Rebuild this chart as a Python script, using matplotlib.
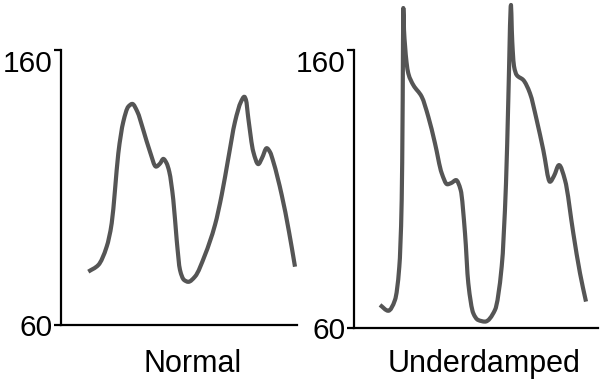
import matplotlib
matplotlib.use("Agg")
import matplotlib.pyplot as plt
from matplotlib.path import Path
from matplotlib.patches import PathPatch

plt.rcParams['font.family'] = ['Liberation Sans', 'DejaVu Sans']

# Normal waveform (time in arbitrary units, pressure in mmHg)
normal_t = [27.3, 37.3, 45.7, 50.7, 54.0, 57.3, 62.3, 67.3, 71.3, 76.3, 82.3, 89.0,
            95.0, 99.0, 102.3, 105.5, 108.3, 112.3, 115.7, 119.0, 123.0, 127.3, 134.0,
            144.0, 154.0, 160.7, 167.3, 174.0, 180.0, 183.3, 185.0, 187.3, 192.3, 197.3,
            201.0, 205.7, 209.0, 212.3, 220.7, 228.0, 234.0]
normal_p = [79.4, 81.8, 88.5, 97.0, 109.1, 122.4, 133.9, 139.4, 140.4, 137.6, 130.9, 123.0,
            117.6, 118.7, 120.4, 118.9, 115.7, 105.5, 90.9, 80.0, 76.4, 75.7, 77.6,
            85.5, 96.4, 107.3, 120.6, 133.9, 141.2, 143.0, 141.8, 135.2, 123.0, 118.5,
            120.7, 124.3, 122.9, 119.4, 107.3, 93.9, 81.2]

# Underdamped waveform
under_t = [26.0, 34.3, 41.0, 45.3, 47.7, 48.7, 49.3, 50.0, 51.0, 52.5, 54.3, 59.3,
           67.7, 74.3, 81.0, 87.7, 93.3, 97.5, 102.0, 106.7, 111.0, 114.3, 119.3, 124.0,
           131.0, 141.0, 147.7, 152.0, 154.3, 157.0, 157.8, 158.7, 160.0, 162.7, 169.3,
           176.0, 182.7, 189.3, 196.0, 200.0, 205.0, 211.0, 219.3, 226.0, 232.0]
under_p = [68.3, 66.2, 70.1, 82.0, 106.0, 142.0, 175.1, 167.2, 161.8, 155.7, 151.6, 147.4,
           143.2, 136.0, 126.4, 115.7, 111.7, 112.2, 113.2, 109.6, 94.1, 76.1, 65.3, 62.9,
           62.3, 66.5, 82.1, 112.0, 142.0, 176.2, 167.2, 160.0, 154.2, 151.0, 149.2,
           144.4, 134.8, 124.0, 112.6, 114.7, 118.6, 113.2, 94.1, 79.7, 69.5]

yticks = [60, 160]
ytick_labels = ['60', '160']
panel_titles = ['Normal', 'Underdamped']

W, H = 600, 379
fig = plt.figure(figsize=(W / 100, H / 100), dpi=100)

line_color = '#555555'


def smooth_path(xs, ys):
    """Cubic Bezier path passing through every data point (monotone Hermite tangents)."""
    n = len(xs)
    h = [xs[i + 1] - xs[i] for i in range(n - 1)]
    d = [(ys[i + 1] - ys[i]) / h[i] for i in range(n - 1)]
    m = [0.0] * n
    m[0], m[-1] = d[0], d[-1]
    for k in range(1, n - 1):
        if d[k - 1] * d[k] <= 0:
            m[k] = 0.0
        else:
            w1 = 2 * h[k] + h[k - 1]
            w2 = h[k] + 2 * h[k - 1]
            m[k] = (w1 + w2) / (w1 / d[k - 1] + w2 / d[k])
    verts = [(xs[0], ys[0])]
    codes = [Path.MOVETO]
    for i in range(n - 1):
        verts += [(xs[i] + h[i] / 3, ys[i] + m[i] * h[i] / 3),
                  (xs[i + 1] - h[i] / 3, ys[i + 1] - m[i + 1] * h[i] / 3),
                  (xs[i + 1], ys[i + 1])]
        codes += [Path.CURVE4] * 3
    return Path(verts, codes)


def make_axes(x0, x1, y_base, y_160, ymax):
    px_per_unit = (y_base - y_160) / 100.0
    y_top = y_base - (ymax - 60) * px_per_unit
    ax = fig.add_axes([x0 / W, 1 - y_base / H, (x1 - x0) / W, (y_base - y_top) / H])
    ax.set_ylim(60, ymax)
    for s in ['top', 'right']:
        ax.spines[s].set_visible(False)
    ax.spines['left'].set_bounds(60, 160)
    for s in ['left', 'bottom']:
        ax.spines[s].set_linewidth(1.6)
        ax.spines[s].set_color('black')
    ax.set_xticks([])
    ax.set_yticks(yticks)
    ax.set_yticklabels(ytick_labels)
    ax.tick_params(axis='y', direction='out', length=5, width=1.6, pad=1,
                   labelsize=21.5, colors='black')
    for lbl in ax.get_yticklabels():
        if lbl.get_text() == '160':
            lbl.set_va('top')
    ax.patch.set_alpha(0)
    return ax


def draw_wave(ax, t, p):
    patch = PathPatch(smooth_path(t, p), facecolor='none', edgecolor=line_color,
                      lw=3, capstyle='butt', joinstyle='round', clip_on=False)
    ax.add_patch(patch)


ax1 = make_axes(61, 297, 325, 50, 160)
ax1.set_xlim(0, 236)
draw_wave(ax1, normal_t, normal_p)
ax1.set_xlabel(panel_titles[0], fontsize=22, va='baseline')
ax1.xaxis.set_label_coords(193 / W, 1 - 372 / H, transform=fig.transFigure)

ax2 = make_axes(354, 598, 328, 50, 180)
ax2.set_xlim(0, 244)
draw_wave(ax2, under_t, under_p)
ax2.set_xlabel(panel_titles[1], fontsize=22, va='baseline')
ax2.xaxis.set_label_coords(484 / W, 1 - 372 / H, transform=fig.transFigure)

fig.savefig('out.png', dpi=100)
